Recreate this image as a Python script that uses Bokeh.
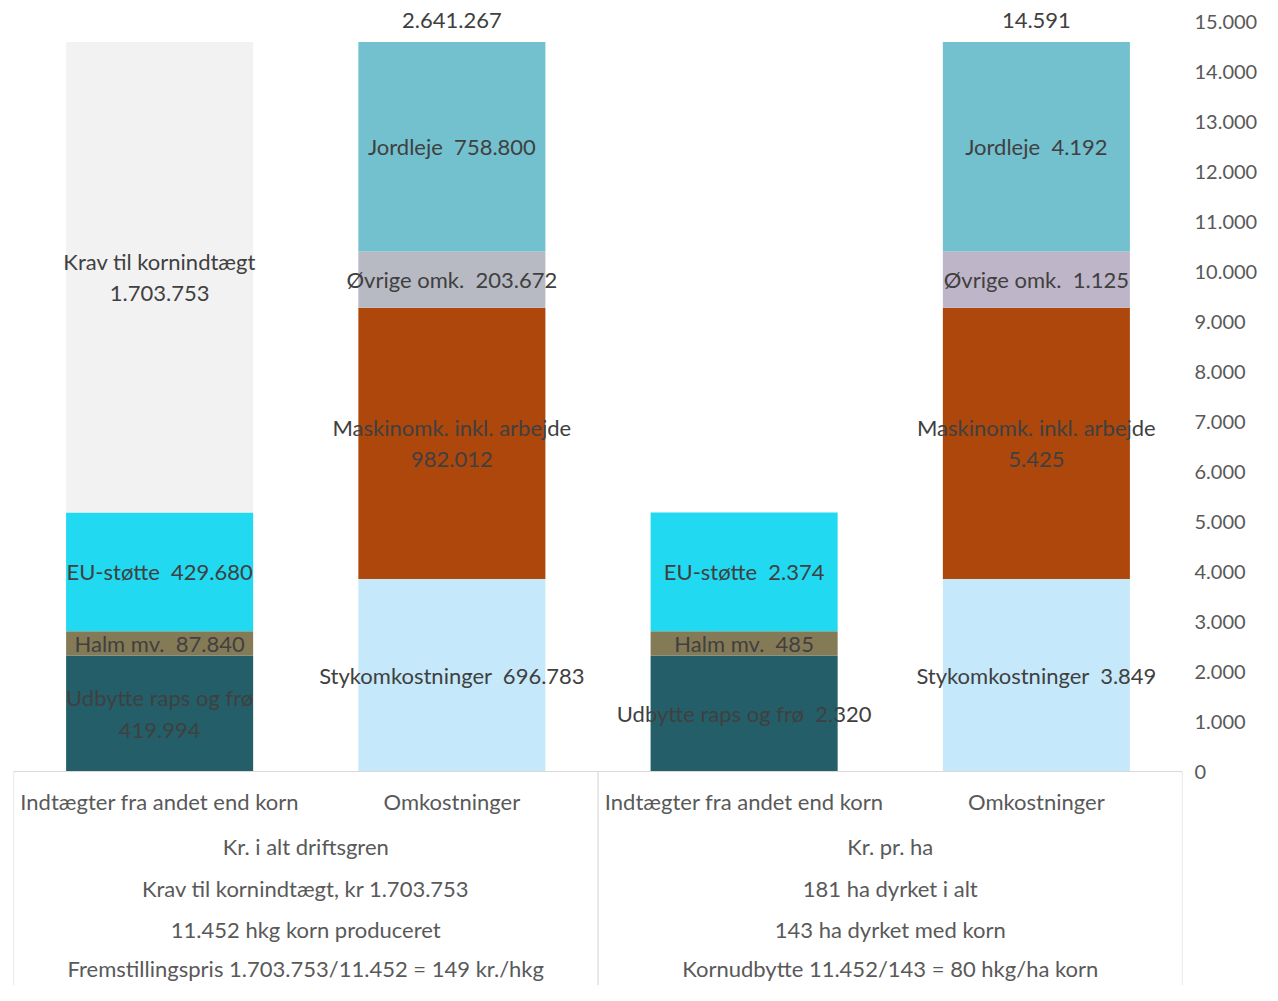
import numpy as np
from bokeh.plotting import figure
from bokeh.models import Range1d, LinearAxis, FixedTicker, ColumnDataSource
from bokeh.core.properties import value
from bokeh.embed import file_html
from bokeh.resources import INLINE

# ---------------- data ----------------
categories = ["Indtægter fra andet end korn", "Omkostninger",
              "Indtægter fra andet end korn", "Omkostninger"]
groups = ["Kr. i alt driftsgren", "Kr. pr. ha"]
group_notes_total = ["Krav til kornindtægt, kr 1.703.753",
                     "11.452 hkg korn produceret",
                     "Fremstillingspris 1.703.753/11.452 = 149 kr./hkg"]
group_notes_ha = ["181 ha dyrket i alt",
                  "143 ha dyrket med korn",
                  "Kornudbytte 11.452/143 = 80 hkg/ha korn"]

income_items = ["Udbytte raps og frø", "Halm mv.", "EU-støtte", "Krav til kornindtægt"]
income_total_kr = [419994, 87840, 429680, 1703753]
income_per_ha = [2320, 485, 2374, 9413]
income_colors = ["#245E69", "#857A56", "#21D9F0", "#F2F2F2"]

cost_items = ["Stykomkostninger", "Maskinomk. inkl. arbejde", "Øvrige omk.", "Jordleje"]
cost_total_kr = [696783, 982012, 203672, 758800]
cost_per_ha = [3849, 5425, 1125, 4192]
cost_colors_total = ["#C5E9FA", "#AD470C", "#B7B9C3", "#73C0CF"]
cost_colors_ha = ["#C5E9FA", "#AD470C", "#BEB5C8", "#73C0CF"]

y_ticks = list(range(0, 15001, 1000))

FONT = "Lato"
FS = "22px"
LABEL_COLOR = "#404040"
AXIS_COLOR = "#595959"
NB = "\u00a0\u00a0"


def dk(v):
    return f"{int(round(v)):,}".replace(",", ".")


# ---------------- figure ----------------
W, H = 1262, 985
Y0, Y1 = -4280, 15420
p = figure(width=W, height=H, output_backend="svg", toolbar_location=None,
           x_range=Range1d(0, 4), y_range=Range1d(Y0, Y1),
           x_axis_location=None, y_axis_location=None,
           min_border_left=13, min_border_right=80, min_border_top=0, min_border_bottom=0)
p.outline_line_color = None
p.xgrid.visible = False
p.ygrid.visible = False
p.background_fill_color = "white"
p.border_fill_color = "white"

yaxis = LinearAxis(ticker=FixedTicker(ticks=y_ticks),
                   major_label_overrides={t: dk(t) for t in y_ticks})
yaxis.axis_line_color = None
yaxis.major_tick_line_color = None
yaxis.minor_tick_line_color = None
yaxis.major_tick_out = 0
yaxis.major_tick_in = 0
yaxis.major_label_standoff = 12
yaxis.major_label_text_font = FONT
yaxis.major_label_text_font_size = "20px"
yaxis.major_label_text_color = AXIS_COLOR
p.add_layout(yaxis, "right")

# ---------------- bars ----------------
bar_specs = [
    (0.5, income_items, income_per_ha, income_total_kr, income_colors),
    (1.5, cost_items, cost_per_ha, cost_total_kr, cost_colors_total),
    (2.5, income_items[:3], income_per_ha[:3], income_per_ha[:3], income_colors[:3]),
    (3.5, cost_items, cost_per_ha, cost_per_ha, cost_colors_ha),
]

bx, bb, bt, bc = [], [], [], []
lx, ly, lt = [], [], []
for xc, items, heights, labels, colors in bar_specs:
    tops = np.cumsum(heights)
    bottoms = tops - np.array(heights)
    for name, b, t, lab, c in zip(items, bottoms, tops, labels, colors):
        bx.append(xc); bb.append(b); bt.append(t); bc.append(c)
        txt = f"{name}{NB}{dk(lab)}"
        if len(txt) > 26:
            txt = f"{name}\n{dk(lab)}"
        lx.append(xc); ly.append((b + t) / 2); lt.append(txt)

bars = ColumnDataSource(dict(x=bx, bottom=bb, top=bt, color=bc))
p.vbar(x="x", bottom="bottom", top="top", width=0.64, fill_color="color",
       line_color=None, source=bars)

labels = ColumnDataSource(dict(x=lx, y=ly, text=lt))
p.text(x="x", y="y", text="text", source=labels, text_align="center",
       text_baseline="middle", text_font=value(FONT), text_font_size=FS,
       text_color=LABEL_COLOR, text_line_height=1.15)

# totals above cost bars
tot_src = ColumnDataSource(dict(x=[1.5, 3.5], y=[sum(cost_per_ha), sum(cost_per_ha)],
                                text=[dk(sum(cost_total_kr)), dk(sum(cost_per_ha))]))
p.text(x="x", y="y", text="text", source=tot_src, y_offset=-21, text_align="center",
       text_baseline="middle", text_font=value(FONT), text_font_size=FS,
       text_color=LABEL_COLOR)

# ---------------- category table ----------------
GRID = "#D9D9D9"
p.segment(x0=[0, 0, 2, 4], y0=[0, 0, 0, 0], x1=[4, 0, 2, 4], y1=[0, Y0, Y0, Y0],
          line_color=GRID, line_width=1.2)

cat_src = ColumnDataSource(dict(x=[0.5, 1.5, 2.5, 3.5], y=[-600] * 4, text=categories))
p.text(x="x", y="y", text="text", source=cat_src, text_align="center",
       text_baseline="middle", text_font=value(FONT), text_font_size=FS,
       text_color=AXIS_COLOR)

row_y = [-1500, -2340, -3160, -3940]
gx, gy, gt = [], [], []
for xc, head, notes in [(1.0, groups[0], group_notes_total), (3.0, groups[1], group_notes_ha)]:
    for yy, t in zip(row_y, [head] + notes):
        gx.append(xc); gy.append(yy); gt.append(t)
grp_src = ColumnDataSource(dict(x=gx, y=gy, text=gt))
p.text(x="x", y="y", text="text", source=grp_src, text_align="center",
       text_baseline="middle", text_font=value(FONT), text_font_size=FS,
       text_color=AXIS_COLOR)

open("out.html", "w").write(file_html(p, INLINE))
